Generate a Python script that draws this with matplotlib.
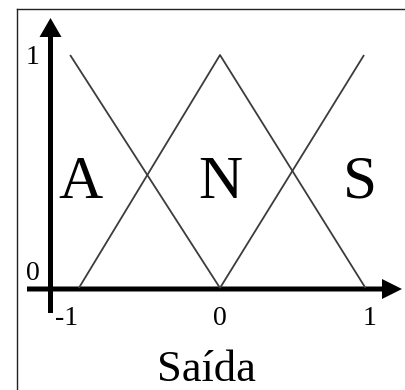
import matplotlib
matplotlib.use("Agg")
import matplotlib.pyplot as plt
from matplotlib.lines import Line2D

# Data: triangular membership functions
x_A = [-1.03, 0.0]
y_A = [1.0, 0.0]
x_N = [-0.97, 0.0, 1.0]
y_N = [0.0, 1.0, 0.0]
x_S = [0.0, 0.99]
y_S = [0.0, 1.0]
set_labels = ["A", "N", "S"]
set_label_x = [-0.96, 0.0, 0.96]
xtick_vals = [-1, 0, 1]
xtick_labels = ["-1", "0", "1"]
ytick_vals = [0, 1]
ytick_labels = ["0", "1"]
xlabel = "Saída"

W, H = 406, 390
fig = plt.figure(figsize=(W / 100, H / 100), dpi=100)
ax = fig.add_axes([0, 0, 1, 1])

# pixel mapping: x=-1 ->75, 0 ->220, 1 ->366 ; y=0 ->288, 1 ->55 (from top)
sx = 145.5
sy = 233.0
x0px, y0px = 220.0, 288.0
ax.set_xlim((0 - x0px) / sx, (W - x0px) / sx)
ax.set_ylim((y0px - H) / sy, (y0px - 0) / sy)
ax.axis("off")

def px2x(p):
    return (p - x0px) / sx

def px2y(p):
    return (y0px - p) / sy

serif = ["Liberation Serif", "DejaVu Serif"]
lc = "#3c3c3c"
for xs, ys in [(x_A, y_A), (x_N, y_N), (x_S, y_S)]:
    ax.plot(xs, ys, color=lc, lw=1.3, solid_capstyle="butt")

# y axis arrow
xa = px2x(50.5)
ax.arrow(xa, px2y(313), 0, px2y(18) - px2y(313), width=5 / sx,
         head_width=22 / sx, head_length=19 / sy, length_includes_head=True,
         color="black", lw=0)
# x axis arrow
ya = px2y(289)
ax.arrow(px2x(27), ya, px2x(402) - px2x(27), 0, width=5 / sy,
         head_width=20 / sy, head_length=20 / sx, length_includes_head=True,
         color="black", lw=0)

# set labels
for lab, xv in zip(set_labels, set_label_x):
    ax.text(xv, px2y(198), lab, family=serif, fontsize=44, ha="center",
            va="baseline", color="black")

# tick labels
xoff = [-8, 0, 4]
for v, lab, o in zip(xtick_vals, xtick_labels, xoff):
    ax.text(v + o / sx, px2y(325), lab, family=serif, fontsize=20,
            ha="center", va="baseline", color="black")
for v, lab in zip(ytick_vals, ytick_labels):
    ax.text(px2x(33), v - 9 / sy if v == 1 else v + 8 / sy, lab, family=serif,
            fontsize=20, ha="center", va="baseline", color="black")

ax.text(px2x(206), px2y(381), xlabel, family=serif, fontsize=32,
        ha="center", va="baseline", color="black")

# frame (top and left only)
fig.add_artist(Line2D([17 / W, 17 / W], [0, 1 - 9 / H], transform=fig.transFigure,
                      color="#222222", lw=1.0))
fig.add_artist(Line2D([17 / W, 1], [1 - 9 / H, 1 - 9 / H], transform=fig.transFigure,
                      color="#222222", lw=1.0))

fig.savefig("out.png", dpi=100)
